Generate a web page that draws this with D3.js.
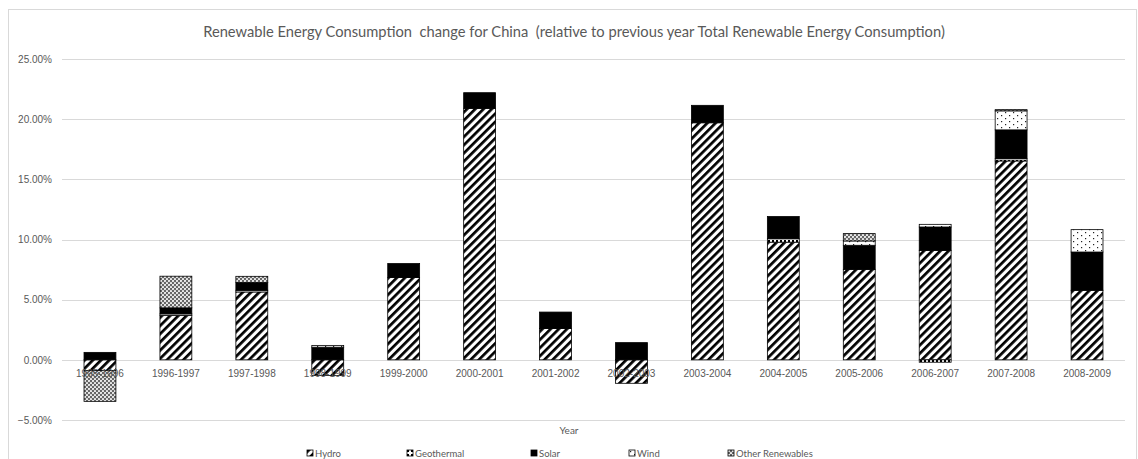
<!DOCTYPE html>
<html>
<head>
<meta charset="utf-8">
<script src="https://cdn.jsdelivr.net/npm/d3@7/dist/d3.min.js"></script>
<style>
  html, body { margin: 0; padding: 0; background: #fff; }
  svg { display: block; }
</style>
</head>
<body>
<div id="chart"></div>
<script>
// Year-over-year change of each renewable source, as % of the previous year's total
const categories = ["1995-1996", "1996-1997", "1997-1998", "1998-1999", "1999-2000", "2000-2001", "2001-2002",
  "2002-2003", "2003-2004", "2004-2005", "2005-2006", "2006-2007", "2007-2008", "2008-2009"];
const hydro      = [-0.90, 3.70, 5.64, -1.30, 6.85, 20.90, 2.60, -1.95, 19.70, 9.78, 7.52, 9.10, 16.53, 5.78];
const geothermal = [0.00, 0.12, 0.14, 0.00, 0.00, 0.00, 0.00, 0.00, 0.00, 0.28, 0.00, -0.20, 0.18, 0.00];
const solar      = [0.62, 0.50, 0.64, 1.05, 1.15, 1.30, 1.37, 1.43, 1.45, 1.85, 2.00, 1.94, 2.40, 3.18];
const wind       = [0.00, 0.00, 0.00, 0.15, 0.00, 0.00, 0.00, 0.00, 0.00, 0.00, 0.36, 0.22, 1.58, 1.86];
const other      = [-2.55, 2.63, 0.52, 0.00, 0.00, 0.00, 0.00, 0.00, 0.00, 0.00, 0.61, 0.00, 0.10, 0.00];
const seriesNames = ["Hydro", "Geothermal", "Solar", "Wind", "Other Renewables"];
const yTicks = [-5, 0, 5, 10, 15, 20, 25];

const W = 1138, H = 459;
const margin = { left: 62, right: 13, top: 59, bottom: 39 };

const rows = categories.map((c, i) => ({
  cat: c,
  "Hydro": hydro[i], "Geothermal": geothermal[i], "Solar": solar[i],
  "Wind": wind[i], "Other Renewables": other[i]
}));

const svg = d3.select("#chart").append("svg").attr("width", W).attr("height", H);

// fill patterns for each series
const defs = svg.append("defs");
const pHydro = defs.append("pattern").attr("id", "p-hydro").attr("patternUnits", "userSpaceOnUse")
  .attr("width", 5.8).attr("height", 5.8).attr("patternTransform", "rotate(45)");
pHydro.append("rect").attr("width", 5.8).attr("height", 5.8).attr("fill", "#fff");
pHydro.append("rect").attr("width", 2.7).attr("height", 5.8).attr("fill", "#000");

const pGeo = defs.append("pattern").attr("id", "p-geo").attr("patternUnits", "userSpaceOnUse")
  .attr("width", 4).attr("height", 4);
pGeo.append("rect").attr("width", 4).attr("height", 4).attr("fill", "#fff");
pGeo.append("rect").attr("width", 2).attr("height", 2).attr("fill", "#000");

const pWind = defs.append("pattern").attr("id", "p-wind").attr("patternUnits", "userSpaceOnUse")
  .attr("width", 8).attr("height", 6);
pWind.append("rect").attr("width", 8).attr("height", 6).attr("fill", "#fff");
pWind.append("rect").attr("x", 1).attr("y", 1).attr("width", 1.2).attr("height", 1.2).attr("fill", "#222");
pWind.append("rect").attr("x", 5).attr("y", 4).attr("width", 1.2).attr("height", 1.2).attr("fill", "#222");

const pOther = defs.append("pattern").attr("id", "p-other").attr("patternUnits", "userSpaceOnUse")
  .attr("width", 4).attr("height", 4);
pOther.append("rect").attr("width", 4).attr("height", 4).attr("fill", "#666");
pOther.append("circle").attr("cx", 1).attr("cy", 1).attr("r", 1.1).attr("fill", "#f2f2f2");
pOther.append("circle").attr("cx", 3).attr("cy", 3).attr("r", 1.1).attr("fill", "#f2f2f2");

const fills = {
  "Hydro": "url(#p-hydro)", "Geothermal": "url(#p-geo)", "Solar": "#000",
  "Wind": "url(#p-wind)", "Other Renewables": "url(#p-other)"
};

// chart area frame
svg.append("rect").attr("x", 8.5).attr("y", 9.5).attr("width", W - 10).attr("height", H - 4)
  .attr("fill", "none").attr("stroke", "#d9d9d9").attr("stroke-width", 1);

const x = d3.scaleBand().domain(categories).range([margin.left, W - margin.right]).paddingInner(0.58).paddingOuter(0.29);
const y = d3.scaleLinear().domain([-5, 25]).range([420, 59]);

// horizontal gridlines
svg.append("g").selectAll("line").data(yTicks).join("line")
  .attr("x1", margin.left).attr("x2", W - margin.right)
  .attr("y1", d => Math.round(y(d)) + 0.5).attr("y2", d => Math.round(y(d)) + 0.5)
  .attr("stroke", "#d9d9d9").attr("stroke-width", 1);

// y-axis labels
const yAxis = d3.axisLeft(y).tickValues(yTicks).tickSize(0).tickPadding(0)
  .tickFormat(d => d3.format(".2f")(d) + "%");
const gy = svg.append("g").attr("transform", `translate(${margin.left - 10},0)`).call(yAxis);
gy.select(".domain").remove();
gy.selectAll("text").attr("fill", "#595959").attr("font-family", "Liberation Sans, Arial, sans-serif").attr("font-size", 10);

// stacked bars (negatives stack below zero)
const stack = d3.stack().keys(seriesNames).offset(d3.stackOffsetDiverging);
const stacked = stack(rows);

const layers = svg.append("g").selectAll("g").data(stacked).join("g")
  .attr("fill", d => fills[d.key]);
layers.selectAll("rect").data(d => d.filter(p => p[1] !== p[0])).join("rect")
  .attr("x", d => x(d.data.cat))
  .attr("width", x.bandwidth())
  .attr("y", d => y(Math.max(d[0], d[1])))
  .attr("height", d => Math.abs(y(d[0]) - y(d[1])))
  .attr("stroke", "#000").attr("stroke-width", 0.8);

// category labels sit just below the zero line
const xAxis = d3.axisBottom(x).tickSize(0).tickPadding(0);
const gx = svg.append("g").attr("transform", `translate(0,${y(0) + 10})`).call(xAxis);
gx.select(".domain").remove();
gx.selectAll("text").attr("fill", "#595959").attr("font-family", "Liberation Sans, Arial, sans-serif").attr("font-size", 10)
  .attr("dy", "0.71em");

// title
svg.append("text").attr("x", 574).attr("y", 37).attr("text-anchor", "middle")
  .attr("fill", "#595959").attr("font-family", "Lato, sans-serif").attr("font-size", 14.7)
  .attr("xml:space", "preserve")
  .text("Renewable Energy Consumption  change for China  (relative to previous year Total Renewable Energy Consumption)");

// axis title
svg.append("text").attr("x", 569).attr("y", 434).attr("text-anchor", "middle")
  .attr("fill", "#595959").attr("font-family", "Lato, sans-serif").attr("font-size", 10).text("Year");

// legend
const legendX = [307, 407, 531, 629, 728];
const lg = svg.append("g").selectAll("g").data(seriesNames).join("g")
  .attr("transform", (d, i) => `translate(${legendX[i]},450)`);
lg.append("rect").attr("width", 6).attr("height", 6).attr("fill", d => fills[d])
  .attr("stroke", "#000").attr("stroke-width", 0.8);
lg.append("text").attr("x", 8).attr("y", 6.5).attr("fill", "#595959")
  .attr("font-family", "Lato, sans-serif").attr("font-size", 9.5).text(d => d);
</script>
</body>
</html>
